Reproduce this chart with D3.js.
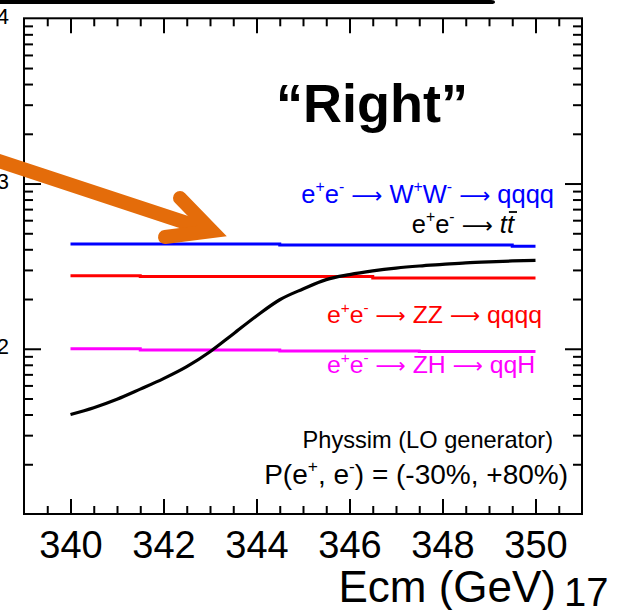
<!DOCTYPE html>
<html>
<head>
<meta charset="utf-8">
<script src="https://cdn.jsdelivr.net/npm/d3@7"></script>
<style>
  html, body { margin: 0; padding: 0; background: #fff; }
  svg { display: block; }
  text { font-family: "Liberation Sans", Arial, sans-serif; }
</style>
</head>
<body>
<svg id="chart" width="620" height="610"></svg>
<script>
// ---------------- data ----------------
const ecm = [340, 340.5, 341, 341.5, 342, 342.5, 343, 343.5, 344, 344.5, 345,
             345.5, 346, 346.5, 347, 347.5, 348, 348.5, 349, 349.5, 350];
const ttbarXsec = [40, 44, 49.5, 57, 66, 78, 96, 123, 158, 198, 230,
                   262, 281, 296, 308, 317, 324, 331, 336, 340, 343];

const wwEdges = [340, 344.5, 349.5, 350];
const wwXsec  = [431, 425, 417];
const zzEdges = [340, 341.5, 346.5, 350];
const zzXsec  = [277, 273.5, 268];
const zhEdges = [340, 341.5, 344.5, 347.5, 350];
const zhXsec  = [100, 98.2, 96.8, 96.2];

const xMajorTicks = [340, 342, 344, 346, 348, 350];
const xMinorTicks = d3.range(339.5, 351, 0.5).filter(v => !xMajorTicks.includes(v));
const yMajorTicks = [100, 1000];
const yMinorTicks = [20,30,40,50,60,70,80,90,200,300,400,500,600,700,800,900,2000,3000,4000,5000,6000,7000,8000,9000];
const yLabelExps  = ["4", "3", "2"];
const yLabelVals  = [10000, 1000, 100];

const xTitle = "Ecm (GeV)";
const pageNum = "17";
const headline = "\u201CRight\u201D";

// ---------------- layout ----------------
const svg = d3.select("#chart");
const L = 24, R = 582, T = 18.3, B = 514;
const x = d3.scaleLinear().domain([339, 351]).range([L, R]);
const y = d3.scaleLog().domain([10, 10000]).range([B, T]);

const g = svg.append("g");

// y labels (10^n, mostly cut off at left edge)
yLabelVals.forEach((v, i) => {
  const t = g.append("text").attr("x", 9).attr("y", y(v) + 15.5)
    .attr("text-anchor", "end").attr("font-size", 34).attr("fill", "#000");
  t.append("tspan").text("10");
  t.append("tspan").attr("font-size", 22).attr("dy", -10).text(yLabelExps[i]);
});
// top slide bar
svg.append("path")
  .attr("d", "M0,0 H491 Q495,0 495,2 Q495,4 491,4 H0 Z")
  .attr("fill", "#000");

// ticks via axes (inward)
function tickAxis(axisFn, scale, vals, size, transform) {
  const a = g.append("g").attr("transform", transform)
    .call(axisFn(scale).tickValues(vals).tickSize(size).tickFormat(""));
  a.select(".domain").remove();
  a.selectAll("line").attr("stroke", "#000").attr("stroke-width", 2);
}
tickAxis(d3.axisBottom, x, xMajorTicks, -15, `translate(0,${B})`);
tickAxis(d3.axisBottom, x, xMinorTicks, -8, `translate(0,${B})`);
tickAxis(d3.axisTop, x, xMajorTicks, -15, `translate(0,${T})`);
tickAxis(d3.axisTop, x, xMinorTicks, -8, `translate(0,${T})`);
tickAxis(d3.axisLeft, y, yMajorTicks, -17, `translate(${L},0)`);
tickAxis(d3.axisLeft, y, yMinorTicks, -9, `translate(${L},0)`);
tickAxis(d3.axisRight, y, yMajorTicks, -17, `translate(${R},0)`);
tickAxis(d3.axisRight, y, yMinorTicks, -9, `translate(${R},0)`);

// frame
g.append("rect").attr("x", L).attr("y", T).attr("width", R - L).attr("height", B - T)
  .attr("fill", "none").attr("stroke", "#000").attr("stroke-width", 2);

// x labels
const xl = g.append("g").attr("transform", `translate(0,${B})`)
  .call(d3.axisBottom(x).tickValues(xMajorTicks).tickSize(0).tickPadding(17).tickFormat(d3.format("d")));
xl.select(".domain").remove();
xl.selectAll("text").attr("font-size", 38).attr("font-family", "Liberation Sans").attr("fill", "#000");

// histogram step lines
function stepLine(edges, vals, color) {
  const pts = vals.map((v, i) => [edges[i], v]);
  pts.push([edges[edges.length - 1], vals[vals.length - 1]]);
  g.append("path").datum(pts)
    .attr("d", d3.line().x(d => x(d[0])).y(d => y(d[1])).curve(d3.curveStepAfter))
    .attr("fill", "none").attr("stroke", color).attr("stroke-width", 3);
}
stepLine(wwEdges, wwXsec, "#0000ff");
stepLine(zzEdges, zzXsec, "#ff0000");
stepLine(zhEdges, zhXsec, "#ff00ff");

// ttbar curve
g.append("path").datum(ecm.map((e, i) => [e, ttbarXsec[i]]))
  .attr("d", d3.line().x(d => x(d[0])).y(d => y(d[1])).curve(d3.curveMonotoneX))
  .attr("fill", "none").attr("stroke", "#000").attr("stroke-width", 3.2);

// rich text helper
function rich(xp, yp, segs, size, anchor, color) {
  const t = svg.append("text").attr("x", xp).attr("y", yp).attr("font-size", size)
    .attr("text-anchor", anchor).attr("fill", color);
  let shift = 0;
  segs.forEach(s => {
    const target = s.sup ? -size * 0.42 : 0;
    const ts = t.append("tspan").attr("dy", target - shift).text(s.t);
    shift = target;
    if (s.sup) ts.attr("font-size", size * 0.62);
    if (s.it) ts.attr("font-style", "italic");
    if (s.ar) ts.attr("font-family", "DejaVu Sans").attr("font-size", size * 0.85);
  });
  return t;
}
const arrowSeg = [{t:" "},{t:"\u27F6",ar:true},{t:" "}];
const ee = [{t:"e"},{t:"+",sup:true},{t:"e"},{t:"-",sup:true}].concat(arrowSeg);

rich(554, 203, ee.concat([{t:"W"},{t:"+",sup:true},{t:"W"},{t:"-",sup:true}], arrowSeg, [{t:"qqqq"}]), 25.5, "end", "#0000ff");
const tt = rich(514, 233, ee.concat([{t:"t",it:true},{t:"t",it:true}]), 25.5, "end", "#000");
// bar over second t
{
  const node = tt.node();
  const n = node.getNumberOfChars();
  const s = node.getStartPositionOfChar(n - 1), e = node.getEndPositionOfChar(n - 1);
  svg.append("line").attr("x1", s.x + 2).attr("x2", e.x + 3).attr("y1", 212).attr("y2", 212)
    .attr("stroke", "#000").attr("stroke-width", 1.8);
}
rich(327, 323, ee.concat([{t:"ZZ"}], arrowSeg, [{t:"qqqq"}]), 24.8, "start", "#ff0000");
rich(327, 373, ee.concat([{t:"ZH"}], arrowSeg, [{t:"qqH"}]), 24.8, "start", "#ff00ff");
svg.append("text").attr("x", 553).attr("y", 448).attr("text-anchor", "end")
  .attr("font-size", 23.6).text("Physsim (LO generator)");
rich(568, 484, [{t:"P(e"},{t:"+",sup:true},{t:", e"},{t:"-",sup:true},{t:") = (-30%, +80%)"}], 28, "end", "#000");

// axis title and page number
svg.append("text").attr("x", 556).attr("y", 602).attr("text-anchor", "end")
  .attr("font-size", 44).text(xTitle);
svg.append("text").attr("x", 564).attr("y", 606).attr("font-family", "Liberation Serif")
  .attr("font-size", 40).text(pageNum);

// headline
svg.append("text").attr("x", 276).attr("y", 122).attr("font-family", "Lato")
  .attr("font-weight", "bold").attr("font-size", 54).text(headline);

// orange arrow
const arrow = svg.append("g").attr("fill", "none").attr("stroke", "#e46c0a")
  .attr("stroke-width", 14).attr("stroke-linecap", "round");
arrow.append("path").attr("d", "M-10,158 L208,230");
arrow.append("path").attr("d", "M180,198 L212,231 L165,237").attr("stroke-linejoin", "miter");
</script>
</body>
</html>
